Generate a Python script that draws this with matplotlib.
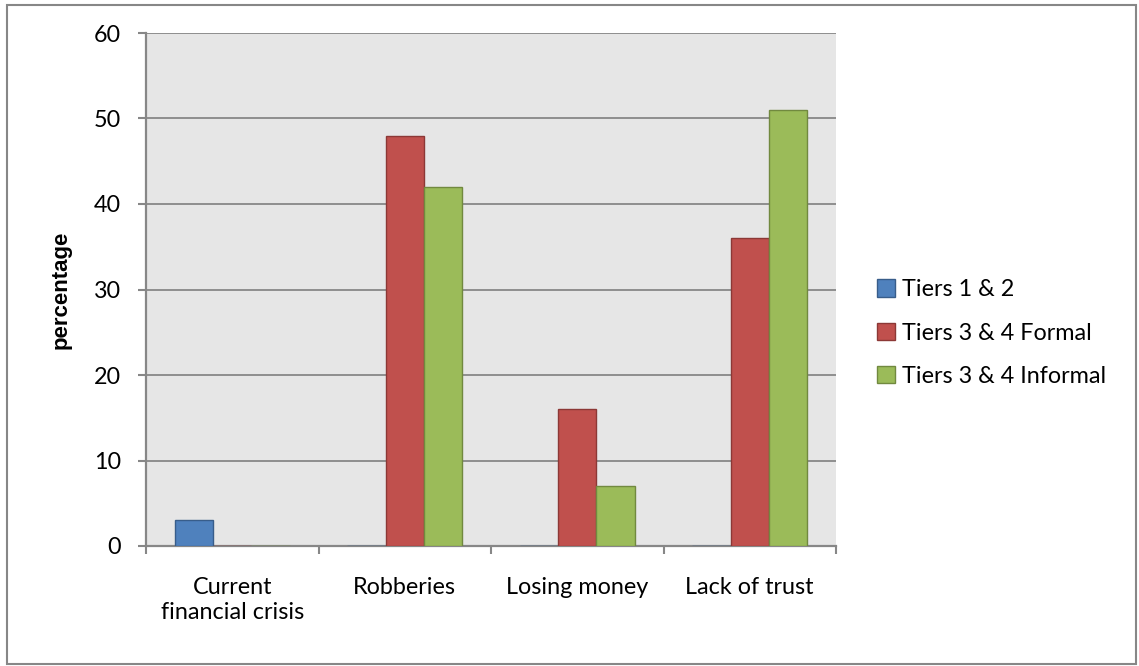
import numpy as np
import matplotlib.pyplot as plt
from matplotlib.patches import Rectangle

categories = ["Current\nfinancial crisis", "Robberies", "Losing money", "Lack of trust"]
series_names = ["Tiers 1 & 2", "Tiers 3 & 4 Formal", "Tiers 3 & 4 Informal"]
tiers_1_2 = [3, 0, 0, 0]
tiers_3_4_formal = [0, 48, 16, 36]
tiers_3_4_informal = [0, 42, 7, 51]
y_ticks = [0, 10, 20, 30, 40, 50, 60]

fills = ["#4F81BD", "#C0504D", "#9BBB59"]
edges = ["#385D8A", "#8C3836", "#71893F"]
grid_col = "#878787"
fs = 16.8

plt.rcParams['font.family'] = ['Lato', 'DejaVu Sans']

fig = plt.figure(figsize=(11.39, 6.66), dpi=100)
ax = fig.add_axes([146/1139, 1 - 546/666, 690/1139, 513/666])
ax.set_facecolor("#E6E6E6")

x = np.arange(len(categories))
w = 1 / 4.5
for i, vals in enumerate([tiers_1_2, tiers_3_4_formal, tiers_3_4_informal]):
    ax.bar(x + (i - 1) * w, vals, width=w, color=fills[i], edgecolor=edges[i],
           linewidth=1.0, label=series_names[i], zorder=3)

ax.set_xlim(-0.5, len(categories) - 0.5)
ax.set_ylim(0, 60)
ax.set_yticks(y_ticks)
ax.yaxis.grid(True, color=grid_col, linewidth=1.3, zorder=1)
ax.set_axisbelow(True)

for s in ["top", "right"]:
    ax.spines[s].set_visible(False)
for s in ["left", "bottom"]:
    ax.spines[s].set_color(grid_col)
    ax.spines[s].set_linewidth(1.6)

ax.set_xticks(x)
ax.set_xticklabels(categories, fontsize=fs, linespacing=1.28)
ax.set_xticks(np.arange(len(categories) + 1) - 0.5, minor=True)
ax.tick_params(axis="x", which="major", length=0, pad=22)
ax.tick_params(axis="x", which="minor", length=6, width=1.5, color=grid_col)
ax.tick_params(axis="y", length=6, width=1.5, color=grid_col, labelsize=fs, pad=12)

ax.set_ylabel("percentage", fontsize=16, fontweight="bold", labelpad=16,
              family=["Liberation Sans", "DejaVu Sans"])

ax.legend(loc="center left", bbox_to_anchor=(877/1139, 1 - 333/666),
          bbox_transform=fig.transFigure, frameon=False, borderpad=0, borderaxespad=0,
          fontsize=fs, handlelength=0.78, handleheight=0.78, handletextpad=0.3,
          labelspacing=0.95)

# outer chart border
fig.patches.append(Rectangle((7/1139, 2/666), 1129/1139, 659/666, transform=fig.transFigure,
                             fill=False, edgecolor=grid_col, linewidth=1.5))

fig.savefig("out.png", dpi=100)
